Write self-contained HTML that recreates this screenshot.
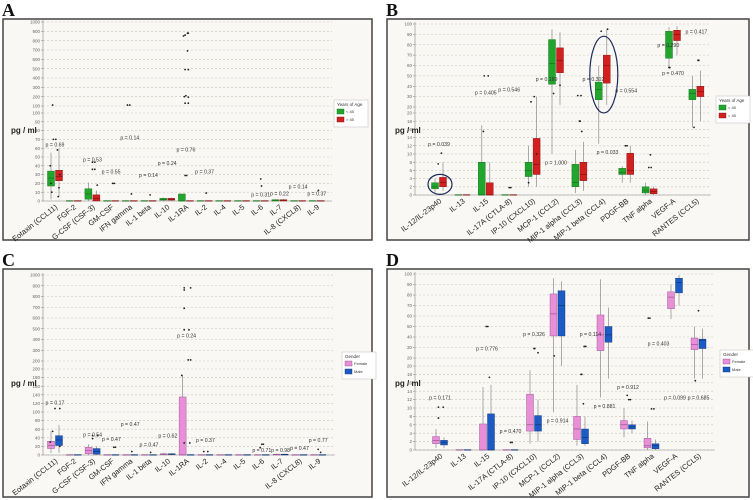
<!DOCTYPE html>
<html><head><meta charset="utf-8">
<style>
html,body{margin:0;padding:0;background:#fff;}
svg{display:block;font-family:"Liberation Sans",sans-serif;}
</style></head>
<body>
<svg id="fig" width="753" height="500" viewBox="0 0 753 500" xmlns="http://www.w3.org/2000/svg"></svg>
<script>
// ---------- DATA ----------
const leftCats = ["Eotaxin (CCL11)","FGF-2","G-CSF (CSF-3)","GM-CSF","IFN gamma","IL-1 beta","IL-10","IL-1RA","IL-2","IL-4","IL-5","IL-6","IL-7","IL-8 (CXCL8)","IL-9"];
const rightCats = ["IL-12/IL-23p40","IL-13","IL-15","IL-17A (CTLA-8)","IP-10 (CXCL10)","MCP-1 (CCL2)","MIP-1 alpha (CCL3)","MIP-1 beta (CCL4)","PDGF-BB","TNF alpha","VEGF-A","RANTES (CCL5)"];
// box stats: [low whisker, q1, median, q3, high whisker]
const aYoung = [[2,17,26,34,55],[0,0,0,0.5,0],[0,2,8,14,21],[0,0,0,0.5,0],[0,0,0,0.5,0],[0,0,0,0.5,0],[0,1,2,3,4],[0,0,0,8,8],[0,0,0,0.5,0],[0,0,0,0.5,0],[0,0,0,0.5,0],[0,0,0,0.5,0],[0,0,1,1.5,2],[0,0,0,0.5,0],[0,0,0,0.5,0]];
const aOld   = [[5,23,28,35,60],[0,0,0,0.5,0],[0,0,3,7,12],[0,0,0,0.5,0],[0,0,0,0.5,0],[0,0,0,0.5,0],[0,1,2,3,4],[0,0,0,0.5,0],[0,0,0,0.5,0],[0,0,0,0.5,0],[0,0,0,0.5,0],[0,0,0,0.5,0],[0,0,1,1.5,2],[0,0,0,0.5,0],[0,0,0,0.5,0]];
const aPts = [[0,-0.3,110],[0,-0.2,70],[0,0.1,70],[0,0.3,58],[0,-0.6,40],[0,0.6,30],[0,-0.5,20],[0,0.5,15],[0,-0.4,10],[0,0.4,5],[2,0,44],[2,0.3,44],[2,0,36],[2,0.3,36],[2,0.6,18],[3,0.2,20],[3,0.4,20],[4,-0.3,110],[4,0,110],[4,0.2,8],[5,0.2,7],[7,-0.3,850],[7,-0.1,860],[7,0.2,880],[7,0.3,880],[7,0.2,690],[7,-0.1,490],[7,0.3,490],[7,-0.2,200],[7,0,210],[7,0.3,195],[7,-0.1,130],[7,0.3,130],[7,-0.1,29],[7,0.1,29],[8,0.2,9],[11,0,25],[11,0.1,17],[14,0.2,12]];
const aP = [["p = 0.69",0,62],["p = 0.53",2,45],["p = 0.55",3,31],["p = 0.14",4,70],["p = 0.14",5,27],["p = 0.24",6,41],["p = 0.76",7,56],["p = 0.37",8,31],["p = 0.31",11,5],["p = 0.22",12,6],["p = 0.14",13,14],["p = 0.37",14,6]];

const bYoung = [[0.5,1.5,2,3,4],[0,0,0,0.1,0],[0,0,0,8,17],[0,0,0,0.1,0],[2,4.5,6,8,12],[10,42,62,85,95],[0.5,2,3,7.5,11],[12.5,27,37,44,60],[3,5,5.5,6.5,7],[0,0.5,1,2,3],[58,67,78,93,97],[16.5,27,33,37,50]];
const bOld   = [[1,2,3,4.3,8],[0,0,0,0.1,0],[0,0,0,3,8],[0,0,0,0.1,0],[2,5,7.5,13.8,30],[22,53,65,77,92],[1,3.5,5,8,13],[22,43,60,70,95],[3,5,6,10.2,12],[0,0.3,0.8,1.5,2],[70,84,90,94,98],[18,30,35,40,55]];
const bPts = [[0,0.3,10.2],[0,-0.1,7.6],[2,-0.2,50],[2,0.3,50],[2,-0.3,15.5],[3,0,1.8],[3,0.2,1.8],[4,-0.2,25],[4,0.2,30],[4,-0.5,3],[4,0.5,10],[5,-0.3,33],[5,0.5,41],[6,-0.2,31],[6,0.2,31],[6,0,18],[6,0.1,18],[6,0.3,15.5],[7,-0.2,93],[7,0.6,95],[8,-0.1,12],[8,0.1,12],[9,0.1,9.8],[9,0.2,6.7],[9,-0.1,6.7],[10,-0.5,58],[10,-0.4,58],[11,0.2,65],[11,0.3,65],[11,-0.3,16.5]];
const bP = [["p = 0.039",0,12],["p = 0.405",2,32],["p = 0.546",3,35],["p = 0.189",4.6,45],["p = 1.000",5,7.5],["p = 0.302",6.6,45],["p = 0.033",7.2,10],["p = 0.554",8,34],["p = 0.290",9.8,78],["p = 0.470",10,51],["p = 0.417",11,91]];

const cFemale = [[5,15,22,32,55],[0,0,0,1,0],[0,3,10,18,25],[0,0,0,1,0],[0,0,0,1,0],[0,0,0,1,0],[0,1,2,3,5],[0,0,0,135,185],[0,0,0,1,0],[0,0,0,1,0],[0,0,0,1,0],[0,0,0,1,0],[0,0,1,2,3],[0,0,0,1,0],[0,0,0,1,0]];
const cMale   = [[5,22,35,45,70],[0,0,0,1,0],[0,2,8,15,20],[0,0,0,1,0],[0,0,0,1,0],[0,0,0,1,0],[0,1,2,3,5],[0,0,0,1,0],[0,0,0,1,0],[0,0,0,1,0],[0,0,0,1,0],[0,0,0,1,0],[0,0,1,2,3],[0,0,0,1,0],[0,0,0,1,0]];
const cPts = [[0,0,108],[0,0.6,108],[0,-0.3,55],[0,-0.6,30],[0,0.6,20],[2,0,45],[2,0,38],[2,0.6,45],[3,0.3,18],[3,0.5,18],[4,0.2,8],[5,0.2,6],[7,-0.3,880],[7,-0.3,860],[7,0.5,880],[7,-0.3,690],[7,-0.3,490],[7,0.3,490],[7,0.2,210],[7,0.5,210],[7,-0.6,185],[7,-0.3,28],[7,0.4,28],[8,-0.2,8],[8,0.3,8],[11,0,25],[11,0.2,25],[11,-0.2,17],[14,0,13],[14,0.3,6]];
const cP = [["p = 0.17",0,118],["p = 0.54",2,43],["p = 0.47",3,33],["p = 0.47",4,68],["p = 0.47",5,20],["p = 0.62",6,41],["p = 0.24",7,420],["p = 0.37",8,30],["p = 0.71",11,7],["p = 0.98",12,7],["p = 0.47",13,12],["p = 0.77",14,30]];

const dFemale = [[0.5,1.5,2.3,3.2,5],[0,0,0,0.1,0],[0,0,0,6.2,15],[0,0,0,0.1,0],[1.5,4.5,6,13.3,19],[9,41,62,81,96],[1,2.5,5,8,15.5],[12.5,27,42,61,95],[3,5,6,7,10],[0,0.5,1,2.8,6.8],[57,67,78,83,90],[17,28,33,39,50]];
const dMale   = [[0.5,1.2,1.8,2.3,3],[0,0,0,0.1,0],[0,0,0,8.6,15.5],[0,0,0,0.1,0],[2,4.5,6,8.2,12],[20,41,70,84,93],[1,1.5,3,5,8],[17,35,42,50,68],[4,5,5.5,6,7],[0,0.3,1,1.5,2.5],[70,82,92,96,99],[17,29,37,38,48]];
const dPts = [[0,-0.2,10.2],[0,-0.2,7.6],[0,0.4,10.2],[2,-0.1,50],[2,0.1,50],[2,0.3,17.3],[3,0,1.8],[3,0.2,1.8],[4,0,29],[4,0.1,29],[4,0.5,25],[5,-0.4,22],[6,0,18],[6,0.1,18],[6,0.3,11],[6,0.4,31],[6,0.6,31],[8,-0.1,13],[8,0.1,12],[8,0.3,12],[9,-0.4,58],[9,-0.2,58],[9,0,9.8],[9,0.3,9.8],[11,0,65],[11,-0.4,16.5]];
const dP = [["p = 0.171",0,12],["p = 0.776",2,27],["p = 0.470",3,4],["p = 0.326",4,41],["p = 0.914",5,6.5],["p = 0.114",6.4,41],["p = 0.881",7,10],["p = 0.912",8,14.5],["p = 0.403",9.3,32],["p = 0.099",10,12],["p = 0.685",11,12]];

const leftUpperTicks = [100,200,300,400,500,600,700,800,900,1000];
const leftLowerTicksA = [0,10,20,30,40,50,60,70,80,90,100];
const leftUpperTicksC = [200,300,400,500,600,700,800,900,1000];
const leftLowerTicksC = [0,20,40,60,80,100,120,140,160,180,200];
const rightUpperTicks = [20,30,40,50,60,70,80,90,100];
const rightLowerTicks = [0,2,4,6,8,10,12,14,16,18,20];

// ---------- DRAW ----------
const NS="http://www.w3.org/2000/svg";
const svg=document.getElementById('fig');
function mk(tag,attrs,parent,text){const e=document.createElementNS(NS,tag);for(const k in attrs)e.setAttribute(k,attrs[k]);if(text!==undefined)e.textContent=text;(parent||svg).appendChild(e);return e;}

const panels=[
 {id:'a',letter:'A',fx:3,fy:19,fw:369,fh:221,ax:43,right:332,x0:55,dx:18.7,split:100,
  up:[100,106,1000,22],lo:[0,201,100,113],upT:leftUpperTicks,loT:leftLowerTicksA,
  cats:leftCats,g1:aYoung,g2:aOld,pts:aPts,pv:aP,c1:'#22a52c',s1:'#136b18',c2:'#d21f1f',s2:'#7a1010',
  legTitle:'Years of Age',leg1:'< 45',leg2:'> 45',lx:334,ly:100,pgy:133,ell:null},
 {id:'b',letter:'B',fx:387,fy:19,fw:362,fh:221,ax:415,right:711,x0:439,dx:23.4,split:20,
  up:[20,107,100,24],lo:[0,195,20,113],upT:rightUpperTicks,loT:rightLowerTicks,
  cats:rightCats,g1:bYoung,g2:bOld,pts:bPts,pv:bP,c1:'#22a52c',s1:'#136b18',c2:'#d21f1f',s2:'#7a1010',
  legTitle:'Years of Age',leg1:'< 45',leg2:'> 45',lx:716,ly:96,pgy:133,ell:true},
 {id:'c',letter:'C',fx:3,fy:269,fw:369,fh:228,ax:43,right:335,x0:55,dx:18.8,split:200,
  up:[200,361,1000,275],lo:[0,455,200,369],upT:leftUpperTicksC,loT:leftLowerTicksC,
  cats:leftCats,g1:cFemale,g2:cMale,pts:cPts,pv:cP,c1:'#e88fd8',s1:'#8a4a8a',c2:'#1c5bc4',s2:'#0d2f70',
  legTitle:'Gender',leg1:'Female',leg2:'Male',lx:342,ly:352,pgy:386,ell:null},
 {id:'d',letter:'D',fx:387,fy:269,fw:362,fh:228,ax:415,right:715,x0:440,dx:23.5,split:20,
  up:[20,358,100,274],lo:[0,450,20,366],upT:rightUpperTicks,loT:rightLowerTicks,
  cats:rightCats,g1:dFemale,g2:dMale,pts:dPts,pv:dP,c1:'#e88fd8',s1:'#8a4a8a',c2:'#1c5bc4',s2:'#0d2f70',
  legTitle:'Gender',leg1:'Female',leg2:'Male',lx:720,ly:350,pgy:386,ell:null}
];

panels.forEach(P=>{
  const g=mk('g',{});
  
  
  const yv=v=>{ if(v>P.split){const[a,ya,b,yb]=P.up;return ya+(v-a)*(yb-ya)/(b-a);} const[a,ya,b,yb]=P.lo;return ya+(v-a)*(yb-ya)/(b-a);};
  const xc=i=>P.x0+i*P.dx;
  const lt=mk('text',{x:P.fx-1,y:P.fy-3,'font-family':'Liberation Serif,serif','font-weight':'bold','font-size':18,fill:'#111'},g,P.letter);
  
  
  const fr=mk('rect',{x:P.fx,y:P.fy,width:P.fw,height:P.fh,fill:'#faf8f4',stroke:'#444','stroke-width':1.5},g);
  
  
  const grid=mk('g',{},g);
  
  
  const drawT=(arr,upper)=>arr.forEach(t=>{
    const seg=upper?P.up:P.lo;
    const y=seg[1]+(t-seg[0])*(seg[3]-seg[1])/(seg[2]-seg[0]);
    mk('line',{x1:P.ax,x2:P.right,y1:y,y2:y,stroke:'#c9c2b8','stroke-width':0.6,'stroke-dasharray':'2,2'},grid);
    mk('line',{x1:P.ax-2,x2:P.ax,y1:y,y2:y,stroke:'#777','stroke-width':0.5},grid);
    const tx=mk('text',{x:P.ax-3,y:y+1.6,'font-size':4.5,fill:'#666','text-anchor':'end'},grid,String(t));
    
    
  });
  drawT(P.upT,true);drawT(P.loT,false);
  mk('line',{x1:P.ax,x2:P.ax,y1:P.up[3]-2,y2:P.lo[1],stroke:'#888','stroke-width':0.6},grid);
  mk('line',{x1:P.ax,x2:P.right,y1:P.lo[1],y2:P.lo[1],stroke:'#888','stroke-width':0.6},grid);
  const pg=mk('text',{x:P.fx+8,y:P.pgy,'font-size':8,'font-weight':'bold',fill:'#222'},g,'pg / ml');
  
  
  P.cats.forEach((c,i)=>{
    [[P.g1[i],-4,P.c1,P.s1],[P.g2[i],4,P.c2,P.s2]].forEach(([s,off,col,sc],k)=>{
      const x=xc(i)+off;
      const bg=mk('g',{},g);
      
      
      if(s[4]>s[3]) mk('line',{x1:x,x2:x,y1:yv(s[3]),y2:yv(s[4]),stroke:'#777','stroke-width':0.6},bg);
      if(s[1]>s[0]) mk('line',{x1:x,x2:x,y1:yv(s[1]),y2:yv(s[0]),stroke:'#777','stroke-width':0.6},bg);
      const top=yv(s[3]),bot=yv(s[1]);
      mk('rect',{x:x-3.5,y:top,width:7,height:Math.max(0.6,bot-top),fill:col,stroke:sc,'stroke-width':0.4},bg);
      mk('line',{x1:x-3.5,x2:x+3.5,y1:yv(s[2]),y2:yv(s[2]),stroke:sc,'stroke-width':0.6},bg);
    });
    const lb=mk('text',{x:0,y:0,'font-size':7.5,fill:'#222','text-anchor':'end',transform:`translate(${xc(i)+3},${P.lo[1]+7}) rotate(-38)`},g,c);
    
    
  });
  P.pts.forEach(p=>{
    const d=mk('circle',{cx:xc(p[0])+p[1]*8,cy:yv(p[2]),r:0.9,fill:'#222'},g);
    
    
  });
  P.pv.forEach(p=>{
    const t=mk('text',{x:xc(p[1]),y:yv(p[2]),'font-size':5.2,fill:'#333','text-anchor':'middle'},g,p[0]);
    
    
  });
  if(P.ell){
    const e1=mk('ellipse',{cx:xc(0)+1,cy:yv(2.6),rx:12,ry:10,fill:'none',stroke:'#1a2a5a','stroke-width':1.2},g);
    
    
    const e2=mk('ellipse',{cx:xc(7)+1,cy:(yv(22)+yv(92))/2+6,rx:14,ry:(yv(22)-yv(92))/2+2,fill:'none',stroke:'#1a2a5a','stroke-width':1.2},g);
    
    
  }
  const lg=mk('g',{},g);
  
  
  mk('rect',{x:P.lx,y:P.ly,width:34,height:27,fill:'#fff',stroke:'#bbb','stroke-width':0.5},lg);
  mk('text',{x:P.lx+3,y:P.ly+6,'font-size':4.5,fill:'#333'},lg,P.legTitle);
  mk('rect',{x:P.lx+3,y:P.ly+9,width:7,height:5,fill:P.c1,stroke:P.s1,'stroke-width':0.4},lg);
  mk('text',{x:P.lx+12,y:P.ly+13,'font-size':4,fill:'#333'},lg,P.leg1);
  mk('rect',{x:P.lx+3,y:P.ly+17,width:7,height:5,fill:P.c2,stroke:P.s2,'stroke-width':0.4},lg);
  mk('text',{x:P.lx+12,y:P.ly+21,'font-size':4,fill:'#333'},lg,P.leg2);
});
</script>
</body></html>
